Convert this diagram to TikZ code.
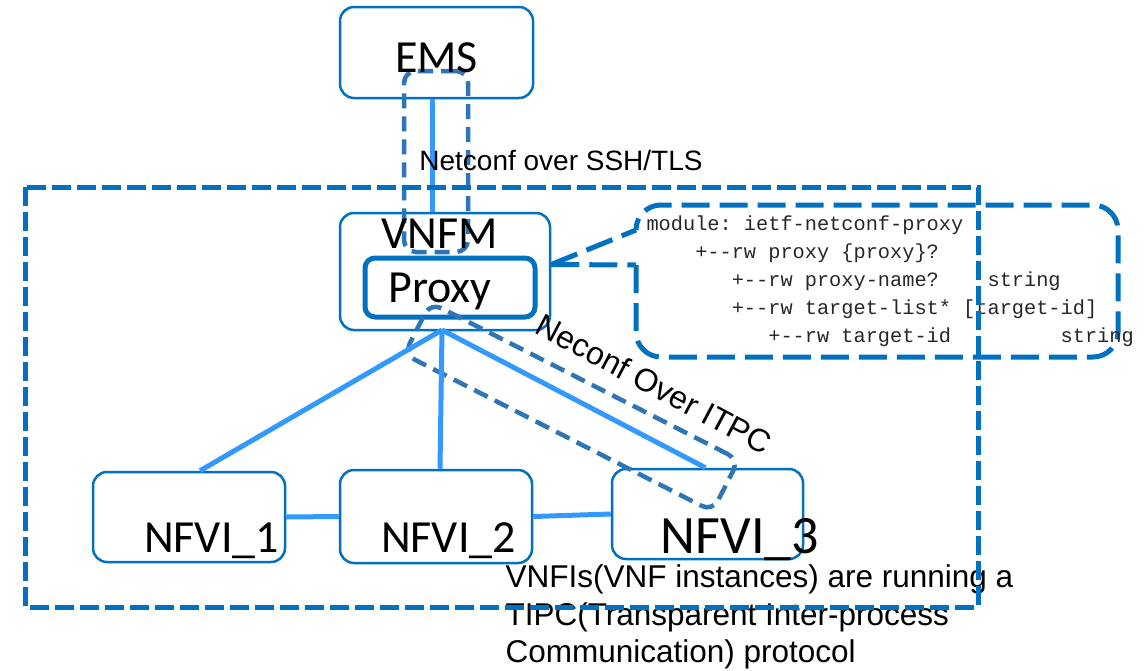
\documentclass[tikz,border=0pt]{standalone}
\usepackage{fontspec}
\setmainfont{Carlito}
\newfontfamily\arial{Liberation Sans}
\newfontfamily\codefont{Liberation Mono}

\definecolor{boxblue}{HTML}{0070C0}
\definecolor{linkblue}{HTML}{3399FF}
\definecolor{dashblue}{HTML}{2E75B6}

% blank columns in the yang tree
\newcommand\gap[1]{\hspace*{\dimexpr 0.6em*#1\relax}}

\begin{document}
\begin{tikzpicture}[x=1pt, y=-1pt,
  box/.style={draw=boxblue, line width=2.5pt, rounded corners=14pt},
  proxybox/.style={draw=boxblue, line width=5pt, rounded corners=10pt},
  link/.style={draw=linkblue, line width=5pt},
  vnfframe/.style={draw=boxblue, line width=5pt, dash pattern=on 19pt off 6pt},
  callout/.style={draw=boxblue, line width=5pt, dash pattern=on 28pt off 10pt},
  wrap/.style={draw=dashblue, line width=4.5pt, dash pattern=on 15pt off 8pt, rounded corners=12pt},
  boxlabel/.style={anchor=base, font=\fontsize{46}{55}\selectfont},
  codeline/.style={anchor=base west, text=black!85, font=\codefont\fontsize{20.3}{24}\selectfont\frenchspacing},
  notetext/.style={anchor=base west, font=\arial\fontsize{31.5}{38}\selectfont}]
\useasboundingbox (0,0) rectangle (1145,670);

% boxes
\node (ems)   [box, minimum width=193pt, minimum height=91pt] at (436.5,52.5) {};
\node (vnfm)  [box, minimum width=210pt, minimum height=117pt] at (445,271.5) {};
\node (proxy) [proxybox, minimum width=170pt, minimum height=59pt] at (450,287.5) {};
\node (nfvi1) [box, minimum width=192pt, minimum height=90pt] at (189,517) {};
\node (nfvi2) [box, minimum width=192pt, minimum height=93pt] at (436,516.5) {};
\node (nfvi3) [box, minimum width=191pt, minimum height=90pt] at (707.5,514) {};

% dashed wraps round the two protocol paths
\node (sshwrap)  [wrap, minimum width=64pt, minimum height=181pt] at (436,161.5) {};
\node (itpcwrap) [wrap, rotate=-27, minimum width=346pt, minimum height=58pt] at (571.5,407) {};

% links
\coordinate (hub) at (442,330);
\draw [link] ([xshift=-4.5pt]ems.south) -- ([xshift=-13pt]vnfm.north);
\draw [link] (hub) -- ([xshift=11pt]nfvi1.north);
\draw [link] (hub) -- ([xshift=4pt]nfvi2.north);
\draw [link] (hub) -- ([xshift=-2pt]nfvi3.north);
\draw [link] (nfvi1.east) -- (nfvi2.west);
\draw [link] (nfvi2.east) -- (nfvi3.west);

% labels
\node (emstext)   [boxlabel] at (436.5,72) {EMS};
\node (vnfmtext)  [boxlabel] at (440,248) {VNFM};
\node (proxytext) [boxlabel] at (440,302) {Proxy};
\node (nfvi1text) [boxlabel] at (211.5,552) {NFVI\_1};
\node (nfvi2text) [boxlabel] at (448.5,552) {NFVI\_2};
\node (nfvi3text) [boxlabel, font=\fontsize{54}{64}\selectfont] at (740,553) {NFVI\_3};
\node (sshtext) [anchor=base, font=\arial\fontsize{28}{34}\selectfont] at (561,170) {Netconf over SSH/TLS};
\node (itpctext) [rotate=-28, font=\arial\fontsize{32}{38}\selectfont] at (654,384) {Neconf Over ITPC};

% yang tree callout
\coordinate (tip) at ([yshift=7pt]vnfm.east);
\draw [callout] (tip) -- (636,230);
\draw [callout] (tip) -- (636,265);
\draw [callout, rounded corners=25pt] (636,265) -- (636,357) -- (1118,357) -- (1118,205) -- (636,205) -- (636,230);
\node (code1) [codeline] at (643,230) {module: ietf-netconf-proxy};
\node (code2) [codeline] at (643,258) {\gap{4}+-{}-rw proxy \{proxy\}?};
\node (code3) [codeline] at (643,286) {\gap{7}+-{}-rw proxy-name?\gap{4}string};
\node (code4) [codeline] at (643,314) {\gap{7}+-{}-rw target-list* [target-id]};
\node (code5) [codeline] at (643,342) {\gap{10}+-{}-rw target-id\gap{9}string};

% note under the nfvi row
\node (note1) [notetext] at (502,587) {VNFIs(VNF instances) are running a};
\node (note2) [notetext] at (502,625) {TIPC(Transparent Inter-process};
\node (note3) [notetext] at (502,662) {Communication) protocol};

% vnf boundary
\draw [vnfframe] (25,187) rectangle (978,607);
\end{tikzpicture}
\end{document}
